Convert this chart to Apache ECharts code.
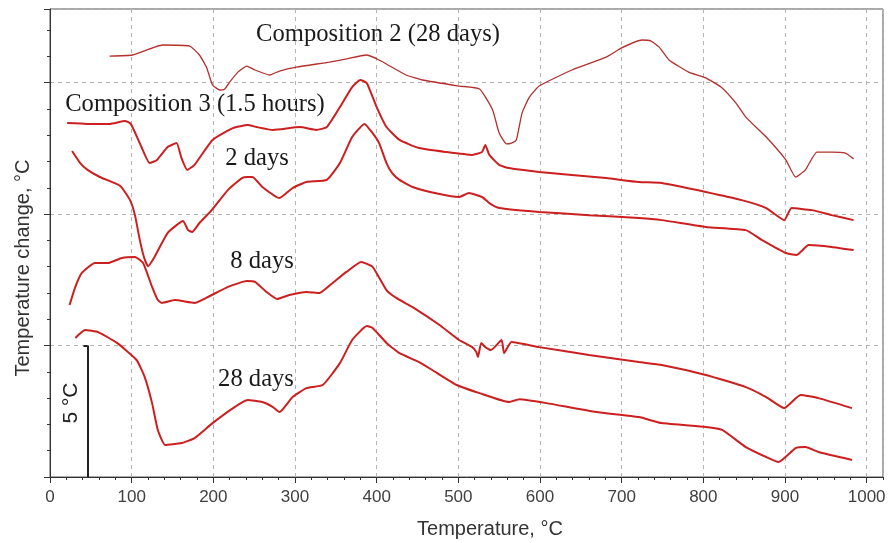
<!DOCTYPE html>
<html>
<head>
<meta charset="utf-8">
<script src="https://cdn.jsdelivr.net/npm/echarts@6/dist/echarts.min.js"></script>
<style>
  html, body { margin: 0; padding: 0; background: #fff; }
  #chart { width: 893px; height: 543px; }
</style>
</head>
<body>
<div id="chart"></div>
<script>
// DTA curves, temperature (°C) vs temperature change (°C, curves shifted for display)
const xTickLabels = [0, 100, 200, 300, 400, 500, 600, 700, 800, 900, 1000];

const comp2_28d = [
  [73, 11.01], [101, 11.05], [138, 11.43], [171, 11.39], [183, 11.05], [192, 10.56],
  [199, 9.91], [208, 9.72], [214, 9.76], [220, 10.02], [230, 10.40], [241, 10.63],
  [251, 10.48], [269, 10.29], [281, 10.44], [302, 10.59], [342, 10.78], [363, 10.90],
  [387, 11.05], [403, 10.86], [436, 10.29], [456, 10.10], [501, 9.87], [526, 9.76],
  [542, 8.96], [550, 8.08], [559, 7.67], [565, 7.70], [571, 7.82], [578, 8.84],
  [587, 9.45], [599, 9.87], [639, 10.48], [681, 10.97], [700, 11.32], [725, 11.62],
  [736, 11.58], [746, 11.35], [758, 10.86], [782, 10.40], [803, 10.18], [823, 9.80],
  [840, 9.22], [852, 8.69], [877, 7.93], [901, 7.06], [913, 6.41], [925, 6.68],
  [939, 7.36], [957, 7.36], [974, 7.32], [984, 7.10]
];

const comp3_15h = [
  [21, 8.46], [45, 8.43], [73, 8.43], [92, 8.54], [98, 8.46], [101, 8.31],
  [112, 7.55], [122, 6.94], [131, 7.06], [144, 7.55], [155, 7.70], [161, 7.13],
  [168, 6.68], [177, 6.87], [199, 7.82], [224, 8.27], [242, 8.39], [253, 8.31],
  [273, 8.20], [306, 8.31], [326, 8.20], [339, 8.31], [355, 9.07], [370, 9.83],
  [380, 10.10], [388, 9.98], [400, 9.07], [412, 8.31], [428, 7.82], [452, 7.51],
  [485, 7.36], [517, 7.25], [529, 7.36], [533, 7.63], [538, 7.25], [550, 6.87],
  [562, 6.75], [599, 6.60], [639, 6.49], [681, 6.37], [721, 6.22], [749, 6.18],
  [803, 5.84], [847, 5.53], [877, 5.23], [899, 4.77], [908, 5.23], [933, 5.15],
  [957, 4.96], [984, 4.77]
];

const comp3_2d = [
  [27, 7.40], [37, 6.94], [46, 6.68], [61, 6.41], [86, 6.07], [98, 5.53],
  [104, 4.96], [110, 4.01], [115, 3.37], [120, 3.02], [128, 3.37], [144, 4.28],
  [163, 4.74], [169, 4.39], [174, 4.32], [183, 4.66], [198, 5.15], [218, 5.92],
  [235, 6.37], [242, 6.41], [248, 6.41], [260, 6.03], [281, 5.61], [297, 5.99],
  [314, 6.22], [339, 6.30], [355, 6.94], [370, 7.93], [385, 8.43], [395, 8.08],
  [403, 7.70], [412, 6.94], [419, 6.56], [428, 6.30], [444, 6.03], [477, 5.76],
  [501, 5.65], [513, 5.80], [529, 5.65], [538, 5.42], [550, 5.23], [599, 5.08],
  [660, 4.96], [721, 4.85], [749, 4.77], [803, 4.51], [852, 4.39], [872, 4.01],
  [901, 3.52], [914, 3.44], [929, 3.82], [957, 3.75], [984, 3.63]
];

const comp3_8d = [
  [24, 1.54], [31, 2.23], [39, 2.76], [55, 3.14], [71, 3.14], [88, 3.33],
  [104, 3.37], [114, 3.14], [125, 2.23], [132, 1.73], [137, 1.62], [153, 1.73],
  [177, 1.62], [193, 1.84], [218, 2.23], [241, 2.45], [251, 2.42], [265, 2.04],
  [278, 1.77], [293, 1.92], [314, 2.04], [330, 2.00], [346, 2.38], [363, 2.80],
  [381, 3.18], [395, 2.99], [412, 2.11], [424, 1.81], [444, 1.46], [477, 0.78],
  [501, 0.21], [517, -0.06], [522, -0.25], [524, -0.44], [528, 0.10], [533, -0.06],
  [540, -0.17], [553, 0.21], [556, -0.29], [565, 0.13], [599, -0.06], [660, -0.36],
  [721, -0.63], [749, -0.74], [803, -1.12], [852, -1.58], [877, -1.96], [899, -2.38],
  [919, -1.88], [941, -2.00], [982, -2.38]
];

const comp3_28d = [
  [31, 0.29], [43, 0.59], [59, 0.51], [82, 0.10], [106, -0.55], [116, -1.20],
  [125, -2.19], [132, -3.21], [141, -3.78], [161, -3.71], [177, -3.52], [199, -2.95],
  [226, -2.34], [242, -2.07], [260, -2.15], [273, -2.34], [281, -2.53], [297, -1.96],
  [314, -1.62], [334, -1.50], [355, -0.67], [370, 0.21], [388, 0.74], [395, 0.67],
  [412, 0.10], [428, -0.29], [452, -0.63], [468, -0.93], [498, -1.50], [526, -1.81],
  [562, -2.15], [575, -2.04], [608, -2.19], [669, -2.53], [721, -2.72], [749, -2.95],
  [803, -3.10], [823, -3.21], [852, -3.86], [877, -4.24], [892, -4.43], [913, -3.90],
  [925, -3.86], [941, -4.05], [982, -4.35]
];

// 5 °C scale bar, drawn in data units
const scaleBarX = 46;
const scaleBarFrom = -5;
const scaleBarTo = 0;

const chart = echarts.init(document.getElementById('chart'), null, { renderer: 'canvas' });

const gridLine = { show: true, lineStyle: { color: '#b4b4b4', type: [4, 4], width: 1 } };
const red = '#cc1f1f';
const serif = '"Liberation Serif", "Times New Roman", serif';
const sans = '"Liberation Sans", Arial, sans-serif';

function curve(name, data, width, color) {
  return {
    name: name,
    type: 'line',
    data: data,
    showSymbol: false,
    symbol: 'none',
    smooth: 0.15,
    lineStyle: { width: width, color: color },
    itemStyle: { color: color },
    silent: true,
    z: 3
  };
}

const series = [
  curve('Composition 2 (28 days)', comp2_28d, 1.3, '#b3302c'),
  curve('Composition 3 (1.5 hours)', comp3_15h, 2, red),
  curve('2 days', comp3_2d, 2, red),
  curve('8 days', comp3_8d, 2, red),
  curve('28 days', comp3_28d, 2, red)
];
series[4].markLine = {
  symbol: 'none',
  silent: true,
  label: { show: false },
  lineStyle: { color: '#222', width: 2, type: 'solid' },
  data: [
    [{ coord: [scaleBarX, scaleBarFrom] }, { coord: [scaleBarX, scaleBarTo] }],
    [{ coord: [scaleBarX - 5, scaleBarTo] }, { coord: [scaleBarX, scaleBarTo] }]
  ]
};

const option = {
  animation: false,
  backgroundColor: '#fff',
  grid: {
    left: 50, top: 9, right: 10, bottom: 66,
    show: true, borderColor: '#555', borderWidth: 1, backgroundColor: 'transparent'
  },
  xAxis: [{
    type: 'value', min: 0, max: 1020, interval: 100, position: 'bottom',
    axisLine: { show: true, onZero: false, lineStyle: { color: '#333', width: 1 } },
    axisTick: { show: true, length: 6, lineStyle: { color: '#333' } },
    axisLabel: {
      show: true, margin: 12, fontSize: 17, color: '#404040',
      fontFamily: sans,
      showMaxLabel: false,
      formatter: function (v) { return xTickLabels.indexOf(v) >= 0 ? String(v) : ''; }
    },
    splitLine: gridLine
  }, {
    // minor ticks
    type: 'value', min: 0, max: 1020, interval: 20, position: 'bottom',
    axisLine: { show: false, onZero: false },
    axisTick: { show: true, length: 3, lineStyle: { color: '#333' } },
    axisLabel: { show: false },
    splitLine: { show: false }
  }],
  yAxis: [{
    type: 'value', min: -5, max: 12.8, interval: 5, position: 'left',
    axisLine: { show: true, onZero: false, lineStyle: { color: '#333', width: 1 } },
    axisTick: { show: true, length: 6, lineStyle: { color: '#333' } },
    axisLabel: { show: false },
    splitLine: gridLine
  }, {
    // minor ticks
    type: 'value', min: -5, max: 12.8, interval: 1, position: 'left',
    axisLine: { show: false, onZero: false },
    axisTick: { show: true, length: 3, lineStyle: { color: '#333' } },
    axisLabel: { show: false },
    splitLine: { show: false }
  }],
  series: series,
  graphic: [
    { type: 'text', x: 378, y: 35, style: { text: 'Composition 2 (28 days)', font: '24.6px ' + serif, fill: '#1a1a1a', align: 'center', verticalAlign: 'middle' } },
    { type: 'text', x: 195, y: 105, style: { text: 'Composition 3 (1.5 hours)', font: '24.6px ' + serif, fill: '#1a1a1a', align: 'center', verticalAlign: 'middle' } },
    { type: 'text', x: 257, y: 159, style: { text: '2 days', font: '24.6px ' + serif, fill: '#1a1a1a', align: 'center', verticalAlign: 'middle' } },
    { type: 'text', x: 262, y: 262, style: { text: '8 days', font: '24.6px ' + serif, fill: '#1a1a1a', align: 'center', verticalAlign: 'middle' } },
    { type: 'text', x: 256, y: 380, style: { text: '28 days', font: '24.6px ' + serif, fill: '#1a1a1a', align: 'center', verticalAlign: 'middle' } },
    { type: 'text', x: 71, y: 403, rotation: Math.PI / 2, style: { text: '5 °C', font: '21px ' + sans, fill: '#222', align: 'center', verticalAlign: 'middle' } },
    { type: 'text', x: 490, y: 529, style: { text: 'Temperature, °C', font: '20px ' + sans, fill: '#333', align: 'center', verticalAlign: 'middle' } },
    { type: 'text', x: 23, y: 268, rotation: Math.PI / 2, style: { text: 'Temperature change, °C', font: '20px ' + sans, fill: '#333', align: 'center', verticalAlign: 'middle' } }
  ]
};

chart.setOption(option);
</script>
</body>
</html>
